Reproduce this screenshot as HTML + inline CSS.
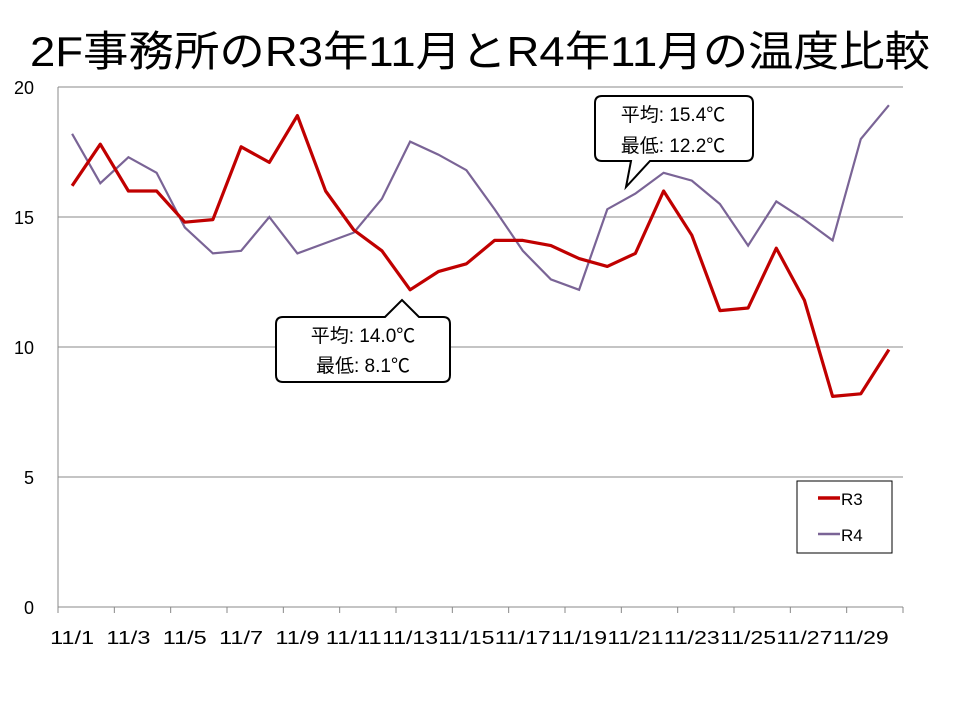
<!DOCTYPE html>
<html><head><meta charset="utf-8"><style>
body{margin:0;background:#fff;width:960px;height:720px;overflow:hidden}
</style></head><body>
<svg width="960" height="720" xmlns="http://www.w3.org/2000/svg" font-family="'Liberation Sans','Noto Sans CJK JP',sans-serif">
<text x="480" y="66" font-size="42" text-anchor="middle" fill="#000" textLength="900" lengthAdjust="spacingAndGlyphs">2F事務所のR3年11月とR4年11月の温度比較</text>
<g stroke="#888" stroke-width="1">
<line x1="58" y1="87" x2="903" y2="87"/>
<line x1="58" y1="217" x2="903" y2="217"/>
<line x1="58" y1="347" x2="903" y2="347"/>
<line x1="58" y1="477" x2="903" y2="477"/>
<line x1="58" y1="607" x2="903" y2="607"/>
<line x1="58" y1="87" x2="58" y2="613"/>
</g>
<g id="ticks" stroke="#888"></g>
<g font-size="18" fill="#000" text-anchor="end">
<text x="34" y="94">20</text><text x="34" y="224">15</text><text x="34" y="354">10</text><text x="34" y="484">5</text><text x="34" y="614">0</text>
</g>
<g id="xl" font-size="18" fill="#000" text-anchor="middle"></g>
<polyline id="r4" fill="none" stroke="#7a6496" stroke-width="2.2"/>
<polyline id="r3" fill="none" stroke="#c00000" stroke-width="3.2" stroke-linejoin="round"/>
<rect x="797" y="481" width="95" height="72" fill="#fff" stroke="#000" stroke-width="1"/>
<line x1="818" y1="498" x2="840" y2="498" stroke="#c00000" stroke-width="3.5"/>
<text x="841" y="505" font-size="17">R3</text>
<line x1="818" y1="534" x2="840" y2="534" stroke="#7a6496" stroke-width="2.5"/>
<text x="841" y="541" font-size="17">R4</text>
<path d="M285,317 H385 L402,300 L419,317 H443 Q450,317 450,324 V375 Q450,382 443,382 H283 Q276,382 276,375 V324 Q276,317 283,317 Z" fill="#fff" stroke="#000" stroke-width="2"/>
<text x="363" y="342" font-size="19" text-anchor="middle">平均: 14.0℃</text>
<text x="363" y="372" font-size="19" text-anchor="middle">最低: 8.1℃</text>
<path d="M602,96 H746 Q753,96 753,103 V154 Q753,161 746,161 H650 L626,187 L631,161 H602 Q595,161 595,154 V103 Q595,96 602,96 Z" fill="#fff" stroke="#000" stroke-width="2"/>
<text x="673" y="121" font-size="19" text-anchor="middle">平均: 15.4℃</text>
<text x="673" y="152" font-size="19" text-anchor="middle">最低: 12.2℃</text>
</svg>
<script>
var r3=[16.2,17.8,16.0,16.0,14.8,14.9,17.7,17.1,18.9,16.0,14.5,13.7,12.2,12.9,13.2,14.1,14.1,13.9,13.4,13.1,13.6,16.0,14.3,11.4,11.5,13.8,11.8,8.1,8.2,9.9];
var r4=[18.2,16.3,17.3,16.7,14.6,13.6,13.7,15.0,13.6,14.0,14.4,15.7,17.9,17.4,16.8,15.3,13.7,12.6,12.2,15.3,15.9,16.7,16.4,15.5,13.9,15.6,14.9,14.1,18.0,19.3];
var w=845/30;function X(i){return 58+w*(i+0.5)}function Y(v){return 607-26*v}
function pts(a){return a.map(function(v,i){return X(i).toFixed(1)+','+Y(v).toFixed(1)}).join(' ')}
document.getElementById('r3').setAttribute('points',pts(r3));
document.getElementById('r4').setAttribute('points',pts(r4));
var ns='http://www.w3.org/2000/svg',t=document.getElementById('ticks'),xl=document.getElementById('xl');
for(var k=0;k<=15;k++){var l=document.createElementNS(ns,'line');var x=58+2*w*k;l.setAttribute('x1',x);l.setAttribute('x2',x);l.setAttribute('y1',607);l.setAttribute('y2',613);t.appendChild(l);}
for(var d=1;d<=29;d+=2){var s=document.createElementNS(ns,'text');s.setAttribute('x',X(d-1));s.setAttribute('y',644);s.setAttribute('textLength',d<10?44:56);s.setAttribute('lengthAdjust','spacingAndGlyphs');s.textContent='11/'+d;xl.appendChild(s);}
</script>
</body></html>
